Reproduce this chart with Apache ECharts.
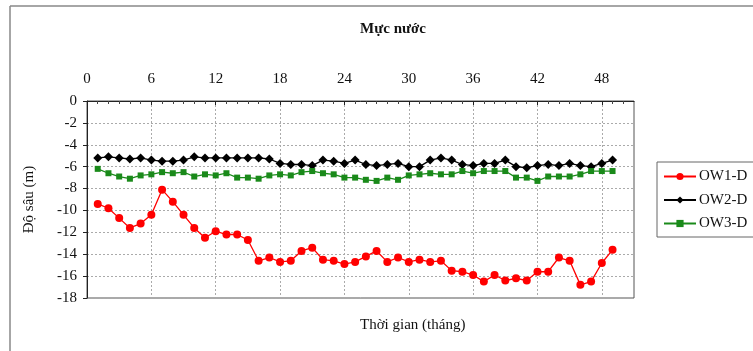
<!DOCTYPE html>
<html>
<head>
<meta charset="utf-8">
<script src="https://cdn.jsdelivr.net/npm/echarts@6/dist/echarts.min.js"></script>
<style>
  html, body { margin: 0; padding: 0; background: #fff; }
  #chart { width: 753px; height: 351px; }
</style>
</head>
<body>
<div id="chart"></div>
<script>
// Monthly water level depth (m) at three observation wells
const months = [];
for (let m = 1; m <= 49; m++) months.push(m);

const ow1 = [-9.4, -9.8, -10.7, -11.6, -11.2, -10.4, -8.1, -9.2, -10.4, -11.6,
             -12.5, -11.9, -12.2, -12.2, -12.7, -14.6, -14.3, -14.7, -14.6, -13.7,
             -13.4, -14.5, -14.6, -14.9, -14.7, -14.2, -13.7, -14.7, -14.3, -14.7,
             -14.5, -14.7, -14.6, -15.5, -15.6, -15.9, -16.5, -15.9, -16.4, -16.2,
             -16.4, -15.6, -15.6, -14.3, -14.6, -16.8, -16.5, -14.8, -13.6];

const ow2 = [-5.2, -5.1, -5.2, -5.3, -5.2, -5.4, -5.5, -5.5, -5.4, -5.1,
             -5.2, -5.2, -5.2, -5.2, -5.2, -5.2, -5.3, -5.7, -5.8, -5.8,
             -5.9, -5.4, -5.5, -5.7, -5.4, -5.8, -5.9, -5.8, -5.7, -6.0,
             -6.0, -5.4, -5.2, -5.4, -5.8, -5.9, -5.7, -5.7, -5.4, -6.0,
             -6.1, -5.9, -5.8, -5.9, -5.7, -5.9, -6.0, -5.7, -5.4];

const ow3 = [-6.2, -6.6, -6.9, -7.1, -6.8, -6.7, -6.5, -6.6, -6.5, -6.9,
             -6.7, -6.8, -6.6, -7.0, -7.0, -7.1, -6.8, -6.7, -6.8, -6.5,
             -6.4, -6.6, -6.7, -7.0, -7.0, -7.2, -7.3, -7.0, -7.2, -6.8,
             -6.7, -6.6, -6.7, -6.7, -6.4, -6.6, -6.4, -6.4, -6.4, -7.0,
             -7.0, -7.3, -6.9, -6.9, -6.9, -6.7, -6.4, -6.4, -6.4];

const seriesNames = ['OW1-D', 'OW2-D', 'OW3-D'];
const xTicks = [0, 6, 12, 18, 24, 30, 36, 42, 48];

const pair = (vals) => vals.map((v, i) => [months[i], v]);
const FONT = '"Liberation Serif", "Times New Roman", serif';

const chart = echarts.init(document.getElementById('chart'), null, { renderer: 'canvas' });

chart.setOption({
  animation: false,
  backgroundColor: '#ffffff',
  textStyle: { fontFamily: FONT, color: '#111' },
  title: {
    text: 'Mực nước',
    left: 388,
    top: 17,
    textAlign: 'center',
    textStyle: { fontFamily: FONT, fontSize: 15, fontWeight: 'bold', color: '#111' }
  },
  grid: {
    left: 87, top: 101, width: 547, height: 197,
    show: true, borderColor: '#555', borderWidth: 1, backgroundColor: '#fff'
  },
  legend: {
    orient: 'vertical',
    left: 657, top: 162,
    data: seriesNames,
    borderColor: '#666', borderWidth: 1,
    padding: [7, 10, 6, 6],
    itemGap: 8.5,
    itemWidth: 32, itemHeight: 9,
    textStyle: { fontFamily: FONT, fontSize: 15, color: '#111', padding: [0, 0, 0, -2] }
  },
  xAxis: {
    type: 'value',
    position: 'top',
    min: 0, max: 51, interval: 6,
    axisLine: { show: true, lineStyle: { color: '#222', width: 1 } },
    axisTick: { show: true, inside: true, length: 4, lineStyle: { color: '#222' },
                customValues: xTicks },
    minorTick: { show: true, splitNumber: 6, length: 3, lineStyle: { color: '#444' } },
    axisLabel: { customValues: xTicks, fontFamily: FONT, fontSize: 15, color: '#111', margin: 14 },
    splitLine: { show: true, lineStyle: { color: '#aaa', type: [2, 2], width: 1 } }
  },
  yAxis: {
    type: 'value',
    min: -18, max: 0, interval: 2,
    name: 'Độ sâu (m)',
    nameLocation: 'middle',
    nameGap: 50,
    nameRotate: 90,
    nameTextStyle: { fontFamily: FONT, fontSize: 15, color: '#111' },
    axisLine: { show: true, onZero: false, lineStyle: { color: '#222', width: 1 } },
    axisTick: { show: true, inside: false, length: 4, lineStyle: { color: '#222' } },
    axisLabel: { fontFamily: FONT, fontSize: 15, color: '#111', margin: 10 },
    splitLine: { show: true, lineStyle: { color: '#aaa', type: [2, 2], width: 1 } }
  },
  graphic: [
    { type: 'line', shape: { x1: 10, y1: 6, x2: 753, y2: 6 }, style: { stroke: '#888', lineWidth: 1.5 } },
    { type: 'line', shape: { x1: 10, y1: 6, x2: 10, y2: 351 }, style: { stroke: '#888', lineWidth: 1.5 } },
    {
      type: 'text', left: 360, top: 318,
      style: { text: 'Thời gian (tháng)', font: '15px ' + FONT, fill: '#111', textAlign: 'center' }
    }
  ],
  series: [
    {
      name: seriesNames[0], type: 'line', data: pair(ow1),
      symbol: 'circle', symbolSize: 8,
      lineStyle: { color: '#ff0000', width: 1.3 },
      itemStyle: { color: '#ff0000' }
    },
    {
      name: seriesNames[1], type: 'line', data: pair(ow2),
      symbol: 'diamond', symbolSize: 9,
      lineStyle: { color: '#000000', width: 1.3 },
      itemStyle: { color: '#000000' }
    },
    {
      name: seriesNames[2], type: 'line', data: pair(ow3),
      symbol: 'rect', symbolSize: 6,
      lineStyle: { color: '#1a8a1a', width: 1.3 },
      itemStyle: { color: '#1a8a1a' }
    }
  ]
});
</script>
</body>
</html>
